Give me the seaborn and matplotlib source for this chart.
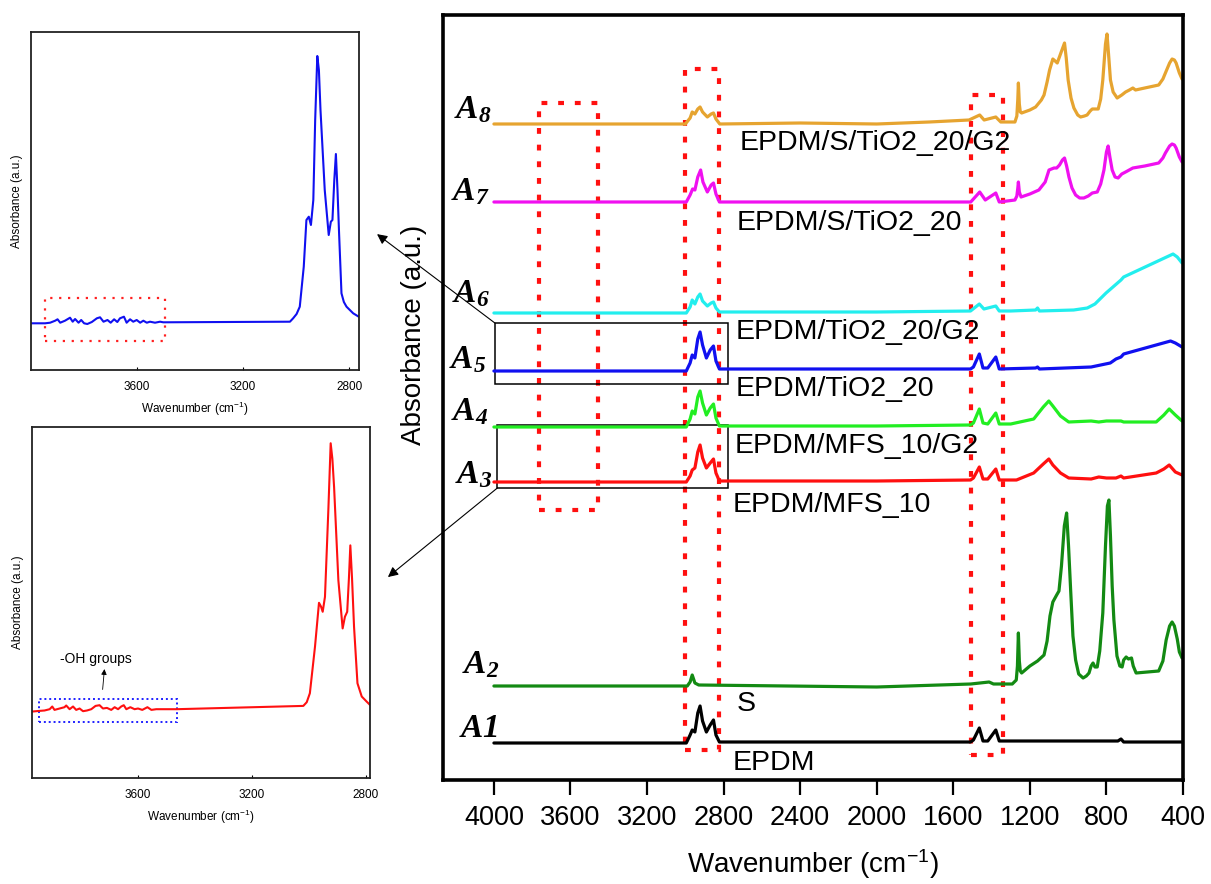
import numpy as np
import pandas as pd
import matplotlib
matplotlib.use('Agg')
import matplotlib.pyplot as plt
import seaborn as sns
from matplotlib.patches import Rectangle

sns.set_style('white')
plt.rcParams['font.family'] = ['Liberation Sans', 'DejaVu Sans']
plt.rcParams['text.color'] = 'black'
plt.rcParams['axes.labelcolor'] = 'black'
plt.rcParams['xtick.color'] = 'black'
plt.rcParams['mathtext.fontset'] = 'custom'
plt.rcParams['mathtext.rm'] = 'Liberation Serif:italic:bold'
plt.rcParams['mathtext.it'] = 'Liberation Serif:italic:bold'
plt.rcParams['mathtext.bf'] = 'Liberation Serif:italic:bold'
plt.rcParams['mathtext.sf'] = 'Liberation Sans'
plt.rcParams['mathtext.default'] = 'regular'

# ---- main panel: FTIR spectra, absorbance above each curve's own baseline (a.u.)
wn_a1 = [4000, 2995, 2975, 2964, 2950, 2935, 2923, 2910, 2890, 2870, 2853, 2840, 2822, 1510, 1495, 1464, 1445, 1420, 1378, 1360, 1150, 740, 724, 710, 405]
ab_a1 = [0, 0, 8, 13, 11, 30, 37, 22, 11, 18, 23, 8, 1, 1, 3, 15, 2, 2, 13, 2, 2, 2, 4, 1, 1]

wn_a2 = [4000, 2990, 2975, 2964, 2950, 2930, 2000, 1509, 1413, 1390, 1292, 1271, 1265, 1260, 1255, 1250, 1243, 1200, 1160,
         1126, 1110, 1095, 1080, 1060, 1048, 1035, 1020, 1008, 998, 987, 975, 961, 945, 922, 905, 891, 880, 870, 860,
         848, 835, 819, 805, 795, 787, 779, 770, 761, 745, 730, 718, 710, 697, 685, 669, 660, 645, 527, 505, 488, 470,
         457, 445, 430, 419, 405]
ab_a2 = [0, 0, 4, 11, 3, 1, -1, 2, 4, 2, 2, 6, 20, 53, 25, 15, 13, 20, 25,
         31, 45, 70, 84, 91, 95, 120, 160, 173, 140, 96, 50, 26, 12, 8, 10, 13, 20, 23, 19,
         19, 35, 73, 140, 180, 186, 150, 100, 66, 30, 20, 19, 26, 29, 27, 28, 20, 13, 15, 25, 46, 60,
         64, 60, 47, 34, 28]

wn_a3 = [4000, 2995, 2975, 2964, 2950, 2935, 2923, 2910, 2890, 2870, 2853, 2840, 2822, 2000, 1510, 1495, 1464, 1445, 1420, 1378, 1360, 1270, 1180, 1130, 1101, 1080, 1040, 997, 880, 840, 800, 750, 724, 710, 540, 500, 472, 440, 405]
ab_a3 = [0, 0, 6, 12, 14, 30, 37, 24, 14, 19, 23, 9, 1, 1, 2, 4, 15, 3, 3, 13, 2, 2, 9, 18, 23, 17, 9, 4, 3, 5, 4, 4, 6, 4, 9, 13, 17, 10, 7]

wn_a4 = [4000, 2995, 2975, 2964, 2950, 2935, 2923, 2910, 2890, 2870, 2853, 2840, 2822, 2000, 1510, 1495, 1464, 1445, 1420, 1378, 1360, 1300, 1180, 1130, 1101, 1080, 1040, 997, 880, 840, 800, 724, 710, 540, 500, 472, 440, 405]
ab_a4 = [0, 0, 8, 16, 13, 30, 36, 24, 12, 19, 23, 9, 1, 1, 2, 4, 18, 4, 3, 14, 3, 3, 8, 20, 26, 21, 11, 5, 6, 5, 6, 6, 5, 5, 12, 18, 12, 6]

wn_a5 = [4000, 2995, 2975, 2964, 2950, 2935, 2923, 2910, 2890, 2870, 2853, 2840, 2822, 2000, 1510, 1495, 1464, 1445, 1420, 1378, 1360, 1170, 1160, 1150, 880, 780, 750, 724, 710, 465, 440, 405]
ab_a5 = [0, 0, 8, 16, 13, 32, 39, 26, 13, 21, 25, 10, 2, 2, 2, 4, 17, 3, 3, 14, 2, 3, 4, 2, 4, 8, 12, 14, 17, 30, 28, 24]

wn_a6 = [4000, 2995, 2975, 2964, 2950, 2935, 2923, 2910, 2885, 2865, 2853, 2840, 2822, 2000, 1510, 1464, 1440, 1378, 1360, 1300, 1170, 1160, 1150, 971, 900, 860, 802, 760, 724, 710, 452, 430, 405]
ab_a6 = [0, 0, 6, 13, 9, 16, 19, 12, 7, 10, 11, 5, 1, 1, 2, 9, 4, 7, 2, 2, 3, 5, 2, 3, 5, 9, 20, 27, 33, 36, 59, 56, 50]

wn_a7 = [4000, 2995, 2975, 2962, 2950, 2935, 2920, 2908, 2885, 2865, 2853, 2840, 2822, 1726, 1509, 1462, 1433, 1378, 1360,
         1278, 1268, 1263, 1260, 1255, 1246, 1200, 1153, 1120, 1100, 1074, 1060, 1045, 1030, 1019, 1008, 996, 980, 961,
         940, 918, 895, 874, 848, 830, 813, 800, 791, 782, 770, 755, 739, 720, 700, 662, 600, 527, 505, 492, 470, 457,
         445, 436, 419, 405]
ab_a7 = [0, 0, 7, 13, 12, 25, 32, 20, 10, 17, 19, 8, 0, 0, 0, 10, 2, 9, 0,
         2, 6, 14, 20, 10, 5, 8, 12, 20, 32, 34, 34, 37, 42, 44, 36, 25, 14, 7,
         4, 4, 6, 9, 10, 18, 32, 50, 56, 45, 32, 25, 24, 28, 30, 34, 36, 39, 44, 49, 56, 58,
         57, 54, 45, 40]

wn_a8 = [4000, 3000, 2975, 2964, 2950, 2935, 2923, 2910, 2885, 2865, 2853, 2840, 2820, 2400, 2000, 1726, 1518, 1462, 1439,
         1378, 1352, 1278, 1268, 1263, 1260, 1255, 1250, 1243, 1200, 1170, 1140, 1126, 1110, 1097, 1080, 1068, 1057,
         1040, 1019, 1010, 1000, 985, 970, 950, 935, 915, 901, 885, 874, 860, 843, 830, 819, 805, 797, 789, 779, 765,
         744, 720, 700, 680, 662, 648, 600, 527, 505, 492, 470, 457, 445, 436, 419, 405]
ab_a8 = [0, 0, 6, 12, 10, 15, 17, 12, 7, 10, 11, 5, 0, 1, 0, 2, 4, 9, 4,
         7, 2, 2, 8, 25, 41, 20, 12, 11, 14, 17, 24, 29, 42, 54, 65, 63, 61,
         70, 81, 66, 44, 26, 16, 9, 7, 8, 9, 13, 15, 15, 15, 25, 44, 80, 90, 70, 44, 32,
         26, 29, 32, 34, 36, 34, 36, 39, 45, 51, 61, 65, 64, 61, 51, 45]

samples = ['A1', 'A2', 'A3', 'A4', 'A5', 'A6', 'A7', 'A8']
names = ['EPDM', 'S', 'EPDM/MFS_10', 'EPDM/MFS_10/G2', 'EPDM/TiO2_20',
         'EPDM/TiO2_20/G2', 'EPDM/S/TiO2_20', 'EPDM/S/TiO2_20/G2']
offsets = [37, 94, 298, 353, 409, 467, 578, 656]
colors = ['#000000', '#138A13', '#FF1010', '#22EE22', '#1010F0', '#22EEEE', '#F010F0', '#E6A430']
wns = [wn_a1, wn_a2, wn_a3, wn_a4, wn_a5, wn_a6, wn_a7, wn_a8]
abs_ = [ab_a1, ab_a2, ab_a3, ab_a4, ab_a5, ab_a6, ab_a7, ab_a8]

# ---- zoomed insets (C-H / O-H region)
wn_top = [3998, 3945, 3926, 3907, 3898, 3888, 3870, 3851, 3841, 3832, 3819, 3809, 3798, 3786, 3769, 3750, 3738,
          3725, 3710, 3698, 3685, 3673, 3663, 3648, 3638, 3625, 3613, 3600, 3587, 3575, 3562, 3550, 3531, 3512,
          3500, 3023, 3011, 2998, 2986, 2971, 2961, 2952, 2944, 2935, 2928, 2920, 2914, 2908, 2892, 2877, 2869,
          2863, 2856, 2850, 2844, 2838, 2829, 2820, 2810, 2785, 2764]
ab_top = [46.7, 46.7, 47.3, 49.3, 50.7, 47.3, 49.3, 52.3, 48.3, 51, 47.3, 50, 46.7, 46, 48, 51.7, 52.7,
          48.3, 50, 47.3, 50.7, 48, 51.7, 53.3, 47.3, 50.7, 48.3, 50, 47.3, 49.3, 47.3, 48.3, 47.3, 48.3,
          47.7, 48.3, 51.7, 56, 63.3, 103.3, 150, 153.3, 145, 170, 250, 314, 300, 260, 180, 135, 148.3,
          150, 190, 216, 180, 136.7, 76.7, 68, 63.3, 56.7, 53.3]

wn_bot = [3972, 3969, 3946, 3928, 3910, 3901, 3893, 3875, 3858, 3852, 3840, 3828, 3817, 3805, 3793, 3779, 3764,
          3749, 3735, 3723, 3709, 3694, 3682, 3670, 3659, 3650, 3641, 3627, 3612, 3600, 3585, 3567, 3553, 3536,
          3512, 3465, 3020, 3008, 2997, 2979, 2965, 2958, 2952, 2944, 2932, 2924, 2918, 2912, 2897, 2882, 2874,
          2866, 2860, 2855, 2849, 2842, 2830, 2815, 2798, 2786]
ab_bot = [66.7, 66.7, 67.3, 67.7, 69, 71.7, 68.3, 69.7, 71, 72.7, 69, 71.7, 68.3, 69.7, 67, 67.7, 69,
          72.3, 73, 69.7, 70.3, 68.3, 71, 69, 71.7, 73, 69, 71, 69, 69.7, 68.3, 71, 68.3, 69,
          69, 69, 72.3, 76, 85, 131.7, 175.7, 172, 166.7, 181.7, 270, 335.7, 320, 291.7, 198.3, 150, 161.7,
          166.7, 200, 233.3, 200, 151.7, 95, 81.7, 76.7, 73.3]

fig = plt.figure(figsize=(12.11, 8.84), dpi=100)
W, H = 1211, 884

def px_axes(l, t, r, b):
    return fig.add_axes([l / W, 1 - b / H, (r - l) / W, (b - t) / H])

# ---------------- main panel
ax = px_axes(443, 15, 1183, 780)
for s, wn, ab, off, c in zip(samples, wns, abs_, offsets, colors):
    df = pd.DataFrame({'wn': wn, 'ab': np.array(ab, dtype=float) + off})
    sns.lineplot(data=df, x='wn', y='ab', ax=ax, color=c, lw=2.3, sort=False, estimator=None)

ax.set_xlim(4266, 400)
ax.set_ylim(0, 765)
ax.set_xticks(np.arange(4000, 399, -400))
ax.set_yticks([])
ax.tick_params(axis='x', direction='out', length=11, width=1.6, labelsize=19.5, pad=7, bottom=True)
for sp in ax.spines.values():
    sp.set_linewidth(2.6)
    sp.set_color('black')
ax.set_xlabel('Wavenumber (cm$^{\\mathsf{-1}}$)', fontsize=20)
ax.xaxis.set_label_coords(0.5, -0.088)
ax.set_ylabel('Absorbance (a.u.)', fontsize=20)
ax.yaxis.set_label_coords(-0.021, 0.582)

# sample codes (bold italic serif, with subscript)
code_txt = [r'$\mathrm{A1}$', r'$\mathrm{A_2}$', r'$\mathrm{A_3}$', r'$\mathrm{A_4}$',
            r'$\mathrm{A_5}$', r'$\mathrm{A_6}$', r'$\mathrm{A_7}$', r'$\mathrm{A_8}$']
code_x = [3979, 3969, 4010, 4031, 4042, 4021, 4021, 4010]
code_y = [43, 107, 297, 360, 412, 478, 580, 662]
for t, x, y in zip(code_txt, code_x, code_y):
    ax.text(x, y, t, fontsize=24, ha='right', va='baseline')

# sample names
name_x = [2754, 2733, 2754, 2743, 2738, 2738, 2733, 2717]
name_y = [17, 76, 275, 334, 391, 448, 557, 637]
for t, x, y in zip(names, name_x, name_y):
    ax.text(x, y, t, fontsize=20.5, ha='left', va='center')

# red dotted highlight boxes
for x0, x1, y0, y1 in [(3766, 3458, 270, 677), (3003, 2822, 30, 711), (1508, 1342, 25, 685)]:
    ax.add_patch(Rectangle((x0, y0), x1 - x0, y1 - y0, fill=False, edgecolor='#FF1010',
                           lw=3, linestyle=(0, (1.4, 2.6))))
# black boxes around zoomed regions
box5 = (3995, 2775, 396, 457)
box3 = (3982, 2775, 292, 355)
for x0, x1, y0, y1 in [box5, box3]:
    ax.add_patch(Rectangle((x0, y0), x1 - x0, y1 - y0, fill=False, edgecolor='black', lw=1.1))

# ---------------- top inset (A5)
ax1 = px_axes(31, 32, 359, 370)
sns.lineplot(x=wn_top, y=ab_top, ax=ax1, color='#1010F0', lw=1.5, sort=False, estimator=None)
ax1.set_xlim(3998, 2763)
ax1.set_ylim(0, 338)
ax1.add_patch(Rectangle((3945, 29.3), 3493 - 3945, 71.7 - 29.3, fill=False, edgecolor='#FF2020',
                        lw=1.6, linestyle=(0, (1, 3))))

# ---------------- bottom inset (A3)
ax2 = px_axes(32, 427, 370, 778)
sns.lineplot(x=wn_bot, y=ab_bot, ax=ax2, color='#FF1010', lw=1.5, sort=False, estimator=None)
ax2.set_xlim(3972, 2786)
ax2.set_ylim(0, 352)
ax2.add_patch(Rectangle((3948, 55.7), 3463 - 3948, 79 - 55.7, fill=False, edgecolor='#2020FF',
                        lw=1.4, linestyle=(0, (1, 1.5))))
ax2.text(3875, 119, '-OH groups', fontsize=10, ha='left', va='center')
ax2.annotate('', xy=(3717, 112), xytext=(3725, 86), arrowprops=dict(arrowstyle='-|>', color='black',
             lw=0.6, mutation_scale=8))

for a in (ax1, ax2):
    a.set_xticks([3600, 3200, 2800])
    a.set_yticks([])
    a.tick_params(axis='x', direction='in', length=2, width=0.8, labelsize=8.5, pad=8, bottom=True)
    for sp in a.spines.values():
        sp.set_linewidth(1.3)
        sp.set_color('#222222')
    a.set_xlabel('Wavenumber (cm$^{\\mathsf{-1}}$)', fontsize=8.5, labelpad=5)
    a.set_ylabel('Absorbance (a.u.)', fontsize=8.5, labelpad=6)

# arrows linking boxes to insets
ax.annotate('', xy=(1.055, 0.402), xycoords=ax1.transAxes, xytext=(box5[0], box5[3]), textcoords='data',
            arrowprops=dict(arrowstyle='-|>', color='black', lw=0.8, mutation_scale=15, shrinkA=0, shrinkB=0),
            annotation_clip=False)
ax.annotate('', xy=(1.053, 0.5725), xycoords=ax2.transAxes, xytext=(box3[0], box3[2]), textcoords='data',
            arrowprops=dict(arrowstyle='-|>', color='black', lw=0.8, mutation_scale=15, shrinkA=0, shrinkB=0),
            annotation_clip=False)

fig.savefig('out.png', dpi=100)
